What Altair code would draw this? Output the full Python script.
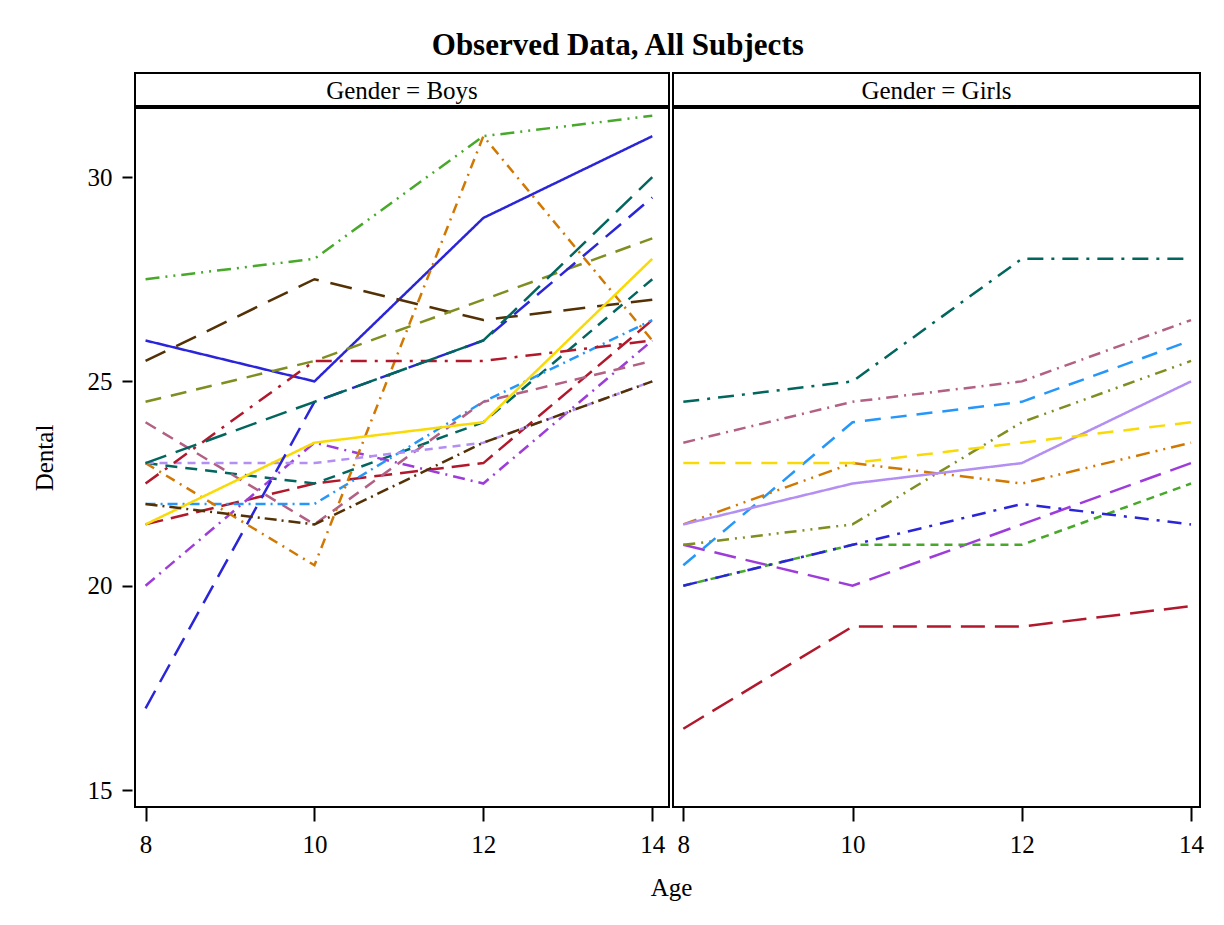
import altair as alt
import pandas as pd

# ---- data (Potthoff-Roy dental growth data) ----
ages = [8, 10, 12, 14]

boy_ids = [12, 13, 14, 15, 16, 17, 18, 19, 20, 21, 22, 23, 24, 25, 26, 27]
boy_dental = [
    [26, 25, 29, 31],
    [21.5, 22.5, 23, 26.5],
    [23, 22.5, 24, 27.5],
    [25.5, 27.5, 26.5, 27],
    [20, 23.5, 22.5, 26],
    [24.5, 25.5, 27, 28.5],
    [22, 22, 24.5, 26.5],
    [24, 21.5, 24.5, 25.5],
    [23, 20.5, 31, 26],
    [27.5, 28, 31, 31.5],
    [23, 23, 23.5, 25],
    [21.5, 23.5, 24, 28],
    [17, 24.5, 26, 29.5],
    [22.5, 25.5, 25.5, 26],
    [23, 24.5, 26, 30],
    [22, 21.5, 23.5, 25],
]

girl_ids = [1, 2, 3, 4, 5, 6, 7, 8, 9, 10, 11]
girl_dental = [
    [21, 20, 21.5, 23],
    [21, 21.5, 24, 25.5],
    [20.5, 24, 24.5, 26],
    [23.5, 24.5, 25, 26.5],
    [21.5, 23, 22.5, 23.5],
    [20, 21, 21, 22.5],
    [21.5, 22.5, 23, 25],
    [23, 23, 23.5, 24],
    [20, 21, 22, 21.5],
    [16.5, 19, 19, 19.5],
    [24.5, 25, 28, 28],
]

y_ticks = [15, 20, 25, 30]
x_ticks = [8, 10, 12, 14]

# ---- styles ----
palette = ["#2A25D9", "#B2182B", "#01665E", "#543005", "#9D3CDB", "#7F8E1F",
           "#2597FA", "#B26084", "#D17800", "#47A82A", "#B38EF3", "#F9DA04"]
dashes = [
    [1, 0], [18, 8], [12, 8], [22, 12], [12, 6, 2, 6], [16, 10],
    [10, 5, 2, 5], [12, 8], [10, 6, 2, 6], [14, 6, 2, 6, 2, 6], [8, 6], [1, 0],
    [20, 10], [16, 8, 3, 8], [22, 10], [12, 5, 2, 5],
    [22, 10], [12, 6, 2, 6, 2, 6], [16, 10], [12, 6, 2, 6], [14, 6, 2, 6, 2, 6],
    [8, 6], [1, 0], [16, 10], [14, 8, 3, 8], [24, 10], [16, 8, 3, 8],
]

FONT = "Liberation Serif"
H, HH = 699, 33
WB, WG = 534, 527

rows = []
for gender, ids, vals in [("Boys", boy_ids, boy_dental), ("Girls", girl_ids, girl_dental)]:
    for sid, v in zip(ids, vals):
        for a, d in zip(ages, v):
            rows.append({"Gender": gender, "Subject": f"S{sid}", "Age": a, "Dental": d})
df = pd.DataFrame(rows)

subject_order = [f"S{s}" for s in boy_ids + girl_ids]
color_range = [palette[i % 12] for i in range(len(subject_order))]

y_scale = alt.Scale(domain=[14.584, 31.69], nice=False, zero=False)


def panel(gender, first, width, xdom):
    x_axis = alt.Axis(values=x_ticks, title="Age" if first else None, tickSize=14,
                      labelPadding=11, titlePadding=18, titleX=width + 2, titleAlign="center")
    if first:
        y_enc = alt.Y("Dental:Q", scale=y_scale,
                      axis=alt.Axis(values=y_ticks, title="Dental", tickSize=10, offset=3,
                                    labelPadding=10, titlePadding=30))
    else:
        y_enc = alt.Y("Dental:Q", scale=y_scale, axis=None)
    return (
        alt.Chart(df)
        .transform_filter(alt.datum.Gender == gender)
        .mark_line(strokeWidth=2.5, clip=True)
        .encode(
            x=alt.X("Age:Q", scale=alt.Scale(domain=xdom, nice=False, zero=False), axis=x_axis),
            y=y_enc,
            color=alt.Color("Subject:N", scale=alt.Scale(domain=subject_order, range=color_range),
                            legend=None),
            strokeDash=alt.StrokeDash("Subject:N",
                                      scale=alt.Scale(domain=subject_order, range=dashes),
                                      legend=None),
            order=alt.Order("Age:Q"),
        )
        .properties(width=width, height=H)
    )


def header(gender, width):
    return (
        alt.Chart(pd.DataFrame({"t": [f"Gender = {gender}"]}))
        .mark_text(font=FONT, fontSize=25, color="black", baseline="middle")
        .encode(text="t:N", x=alt.value(width / 2), y=alt.value(HH / 2 + 1))
        .properties(width=width, height=HH)
    )


chart = (
    alt.concat(header("Boys", WB), header("Girls", WG),
               panel("Boys", True, WB, [7.875, 14.198]),
               panel("Girls", False, WG, [7.878, 14.106]),
               columns=2, spacing={"row": 2, "column": 4}, bounds="flush")
    .properties(
        title=alt.TitleParams("Observed Data, All Subjects", font=FONT, fontSize=31,
                              fontWeight="bold", anchor="middle", color="black", offset=10),
        padding={"left": 23, "top": 22, "right": 5, "bottom": 5},
    )
    .configure_view(stroke="black", strokeWidth=2)
    .configure_axis(
        labelFont=FONT, titleFont=FONT, labelFontSize=25, titleFontSize=25,
        titleFontWeight="normal", labelColor="black", titleColor="black",
        tickColor="black", tickWidth=2, grid=False, domain=False,
    )
)

chart.save("out.html", embed_options={"renderer": "svg", "actions": False})
